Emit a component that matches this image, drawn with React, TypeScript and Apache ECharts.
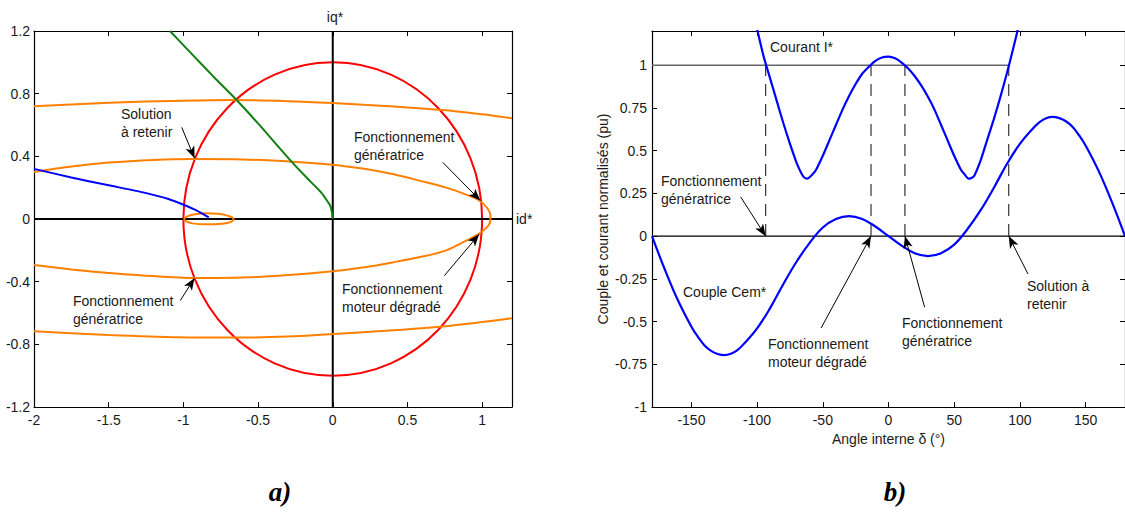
import React, { useEffect, useRef } from "react";
import * as echarts from "echarts";

// ---------- Data : plot a) plan (id*, iq*) ----------
const circleCenterRadius = [[0, 0, 1]];
const orangeTop = [[-2, 0.72], [-1.5, 0.742], [-1, 0.755], [-0.65, 0.759], [-0.3, 0.752], [0, 0.74], [0.35, 0.722], [0.735, 0.696], [1, 0.668], [1.2, 0.643]];
const orangeBottom = [[-2, -0.717], [-1.5, -0.74], [-1.03, -0.755], [-0.65, -0.757], [-0.3, -0.75], [0, -0.734], [0.35, -0.714], [0.735, -0.686], [1, -0.658], [1.2, -0.634]];
const orangeMiddle = [[-2, 0.3], [-1.75, 0.335], [-1.5, 0.36], [-1.2, 0.377], [-0.93, 0.383], [-0.6, 0.38], [-0.27, 0.366], [0, 0.347], [0.2, 0.322], [0.4, 0.287], [0.6, 0.24], [0.76, 0.2], [0.88, 0.16], [0.975, 0.122], [1.03, 0.075], [1.056, 0.02], [1.052, -0.025], [1.025, -0.06], [0.975, -0.096], [0.88, -0.145], [0.76, -0.2], [0.6, -0.24], [0.4, -0.277], [0.2, -0.31], [0, -0.334], [-0.3, -0.358], [-0.6, -0.374], [-0.93, -0.377], [-1.27, -0.36], [-1.5, -0.345], [-1.75, -0.322], [-2, -0.294]];
const orangeLoop = [[-0.998, 0.0], [-0.97, 0.018], [-0.92, 0.03], [-0.85, 0.036], [-0.77, 0.033], [-0.7, 0.02], [-0.664, 0.0], [-0.68, -0.018], [-0.74, -0.03], [-0.85, -0.034], [-0.94, -0.028], [-0.985, -0.014], [-0.998, 0.0]];
const blueLocus = [[-2, 0.32], [-1.75, 0.265], [-1.5, 0.215], [-1.27, 0.17], [-1.1, 0.128], [-0.99, 0.088], [-0.92, 0.058], [-0.87, 0.032], [-0.83, 0.01]];
const greenLocus = [[-1.09, 1.2], [-0.93, 1.04], [-0.8, 0.91], [-0.65, 0.766], [-0.5, 0.61], [-0.27, 0.36], [-0.15, 0.24], [-0.078, 0.17], [-0.04, 0.12], [-0.017, 0.085], [-0.005, 0.04], [0, 0]];

// ---------- Data : plot b) versus angle ----------
const cemAngles = [-180, -170, -160, -150, -145, -140, -135, -130, -125, -120, -115, -110, -100, -90, -80, -70, -60, -50, -40, -30, -20, -10, 0, 10, 20, 30, 40, 50, 60, 70, 80, 90, 100, 110, 115, 120, 125, 130, 135, 140, 145, 150, 160, 170, 180];
const cemValues = [0, -0.2, -0.38, -0.53, -0.59, -0.64, -0.672, -0.69, -0.697, -0.689, -0.667, -0.63, -0.54, -0.42, -0.28, -0.15, -0.04, 0.05, 0.1, 0.117, 0.1, 0.056, 0, -0.056, -0.1, -0.117, -0.1, -0.05, 0.04, 0.15, 0.28, 0.42, 0.54, 0.63, 0.667, 0.689, 0.697, 0.69, 0.672, 0.64, 0.59, 0.53, 0.38, 0.2, 0];
const currentAngles = [-110, -105, -100, -95, -90, -85, -80, -75, -70, -65, -62, -58, -55, -50, -45, -40, -35, -30, -25, -20, -15, -10, -5, 0, 5, 10, 15, 20, 25, 30, 35, 40, 45, 50, 55, 58, 61, 65, 70, 75, 80, 85, 90, 95, 100, 105, 110];
const currentValues = [1.55, 1.38, 1.21, 1.05, 0.92, 0.79, 0.66, 0.54, 0.43, 0.35, 0.336, 0.36, 0.39, 0.47, 0.56, 0.65, 0.74, 0.82, 0.89, 0.95, 0.99, 1.025, 1.045, 1.05, 1.04, 1.015, 0.98, 0.935, 0.88, 0.815, 0.74, 0.65, 0.56, 0.47, 0.39, 0.36, 0.336, 0.35, 0.44, 0.56, 0.68, 0.81, 0.95, 1.1, 1.26, 1.42, 1.6];
const solutionAngles = [-93.5, -13.3, 12.5, 91.5];
const currentRef = 1;

const FONT = '"Liberation Sans", Arial, Helvetica, sans-serif';
const TXT = "#1a1a1a";

function arrow(from: number[], to: number[]) {
  return [
    { coord: from, symbol: "none" },
    { coord: to, symbol: "arrow", symbolSize: [7, 12] },
  ];
}

export default function App() {
  const ref = useRef<HTMLDivElement>(null);
  useEffect(() => {
    if (!ref.current) return;
    const chart = echarts.init(ref.current, null, { renderer: "svg" });

    const axisCommon = (show: boolean, fs = 14) => ({
      axisLine: { show: true, onZero: false, lineStyle: { color: "#000", width: 1.2 } },
      axisTick: { show: true, inside: true, length: 5, lineStyle: { color: "#000", width: 1 } },
      splitLine: { show: false },
      axisLabel: { show, color: TXT, fontSize: fs, fontFamily: FONT, showMaxLabel: false },
    });

    const lineS = (data: any, color: string, xi: number, width = 2, extra: any = {}) => ({
      type: "line",
      xAxisIndex: xi,
      yAxisIndex: xi,
      data,
      showSymbol: false,
      symbol: "none",
      lineStyle: { color, width },
      silent: true,
      ...extra,
    });

    const cemData = cemAngles.map((a, i) => [a, cemValues[i]]);
    const curData = currentAngles.map((a, i) => [a, currentValues[i]]);
    const dashed = solutionAngles.map((a) =>
      lineS([[a, 0], [a, currentRef]], "#333", 2, 1.2, { lineStyle: { color: "#333", width: 1.2, type: [12, 8] } })
    );

    const markArrows = (pairs: any[]) => ({
      silent: true,
      symbol: ["none", "arrow"],
      label: { show: false },
      lineStyle: { color: "#000", width: 1, type: "solid" },
      emphasis: { disabled: true },
      data: pairs,
    });

    const option: any = {
      animation: false,
      backgroundColor: "#fff",
      grid: [
        { left: 34, top: 31, width: 478, height: 376 },
        { left: 652, top: 31, width: 480, height: 376 },
      ],
      xAxis: [
        { gridIndex: 0, type: "value", min: -2, max: 1.2, interval: 0.5, position: "bottom", ...axisCommon(true), axisLabel: { ...axisCommon(true).axisLabel, margin: 6 } },
        { gridIndex: 0, type: "value", min: -2, max: 1.2, interval: 0.5, position: "top", ...axisCommon(false) },
        {
          gridIndex: 1, type: "value", min: -180, max: 180, splitNumber: 7, position: "bottom", ...axisCommon(true),
          axisLabel: { ...axisCommon(true).axisLabel, showMinLabel: false, showMaxLabel: false, margin: 6 },
          name: "Angle interne δ (°)", nameLocation: "middle", nameGap: 24,
          nameTextStyle: { color: TXT, fontSize: 14, fontFamily: FONT },
        },
        { gridIndex: 1, type: "value", min: -180, max: 180, splitNumber: 7, position: "top", ...axisCommon(false) },
      ],
      yAxis: [
        { gridIndex: 0, type: "value", min: -1.2, max: 1.2, interval: 0.4, position: "left", ...axisCommon(true), axisLabel: { ...axisCommon(true).axisLabel, showMaxLabel: true, margin: 4 } },
        { gridIndex: 0, type: "value", min: -1.2, max: 1.2, interval: 0.4, position: "right", ...axisCommon(false) },
        {
          gridIndex: 1, type: "value", min: -1, max: 1.2, interval: 0.25, position: "left", ...axisCommon(true),
          axisLabel: { ...axisCommon(true).axisLabel, margin: 5 },
          name: "Couple et courant normalisés (pu)", nameLocation: "middle", nameGap: 42,
          nameTextStyle: { color: TXT, fontSize: 14, fontFamily: FONT },
        },
        { gridIndex: 1, type: "value", min: -1, max: 1.2, interval: 0.25, position: "right", ...axisCommon(false) },
      ],
      series: [
        // plot a)
        lineS([[-2, 0], [1.2, 0]], "#000", 0, 2, {
          markLine: markArrows([
            arrow([-1.011, 0.585], [-0.925, 0.387]),
            arrow([0.736, 0.362], [0.988, 0.118]),
            arrow([-1.021, -0.521], [-0.926, -0.378]),
            arrow([0.747, -0.362], [0.98, -0.098]),
          ]),
        }),
        lineS([[0, -1.2], [0, 1.2]], "#000", 0, 2),
        lineS(orangeTop, "#ff8000", 0, 2, { smooth: 0.3 }),
        lineS(orangeBottom, "#ff8000", 0, 2, { smooth: 0.3 }),
        lineS(orangeMiddle, "#ff8000", 0, 2, { smooth: 0.3 }),
        lineS(orangeLoop, "#ff8000", 0, 2, { smooth: 0.4 }),
        lineS(greenLocus, "#107f10", 0, 2, { smooth: 0.2 }),
        lineS(blueLocus, "#0000ff", 0, 2, { smooth: 0.2 }),
        {
          type: "custom",
          xAxisIndex: 0,
          yAxisIndex: 0,
          silent: true,
          data: circleCenterRadius,
          renderItem: (params: any, api: any) => {
            const cx = api.value(0), cy = api.value(1), r = api.value(2);
            const c = api.coord([cx, cy]);
            const px = api.coord([cx + r, cy]);
            const py = api.coord([cx, cy + r]);
            return {
              type: "ellipse",
              shape: { cx: c[0], cy: c[1], rx: px[0] - c[0], ry: c[1] - py[1] },
              style: { fill: "none", stroke: "#ff0000", lineWidth: 2 },
            };
          },
        },
        // plot b)
        lineS([[-180, 0], [180, 0]], "#000", 2, 1.2, {
          markLine: markArrows([
            arrow([-112.5, 0.229], [-93.5, 0]),
            arrow([-51.3, -0.538], [-13.3, 0]),
            arrow([27.5, -0.416], [12.5, 0]),
            arrow([106.2, -0.222], [91.5, 0]),
          ]),
        }),
        lineS([[-180, currentRef], [solutionAngles[3], currentRef]], "#666", 2, 1.5),
        ...dashed,
        lineS(curData, "#0000ff", 2, 2.2, { smooth: 0.25 }),
        lineS(cemData, "#0000ff", 2, 2.2, { smooth: 0.4 }),
      ],
      graphic: [
        ...[
          { t: "Solution\nà retenir", x: 121, y: 105 },
          { t: "Fonctionnement\ngénératrice", x: 354, y: 128 },
          { t: "Fonctionnement\ngénératrice", x: 73, y: 292 },
          { t: "Fonctionnement\nmoteur dégradé", x: 342, y: 280 },
          { t: "Courant I*", x: 770, y: 38 },
          { t: "Couple Cem*", x: 683, y: 283 },
          { t: "Fonctionnement\ngénératrice", x: 661, y: 172 },
          { t: "Fonctionnement\nmoteur dégradé", x: 768, y: 335 },
          { t: "Fonctionnement\ngénératrice", x: 902, y: 314 },
          { t: "Solution à\nretenir", x: 1027, y: 277 },
        ].map((o) => ({
          type: "text",
          x: o.x,
          y: o.y,
          silent: true,
          style: { text: o.t, fontSize: 14, fontFamily: FONT, fill: TXT, lineHeight: 18, textVerticalAlign: "top" },
        })),
        { type: "text", x: 335, y: 17, silent: true, style: { text: "iq*", fontSize: 14, fontFamily: FONT, fill: TXT, textAlign: "center", textVerticalAlign: "middle" } },
        { type: "text", x: 516, y: 219, silent: true, style: { text: "id*", fontSize: 14, fontFamily: FONT, fill: TXT, textAlign: "left", textVerticalAlign: "middle" } },
        { type: "text", x: 280, y: 492, silent: true, style: { text: "a)", fontSize: 27, fontWeight: "bold", fontStyle: "italic", fontFamily: '"Liberation Serif", "Times New Roman", serif', fill: "#000", textAlign: "center", textVerticalAlign: "middle" } },
        { type: "text", x: 895, y: 492, silent: true, style: { text: "b)", fontSize: 27, fontWeight: "bold", fontStyle: "italic", fontFamily: '"Liberation Serif", "Times New Roman", serif', fill: "#000", textAlign: "center", textVerticalAlign: "middle" } },
      ],
    };
    chart.setOption(option);
    return () => chart.dispose();
  }, []);
  return <div ref={ref} style={{ position: "fixed", left: 0, top: 0, width: 1125, height: 515, background: "#fff" }} />;
}
